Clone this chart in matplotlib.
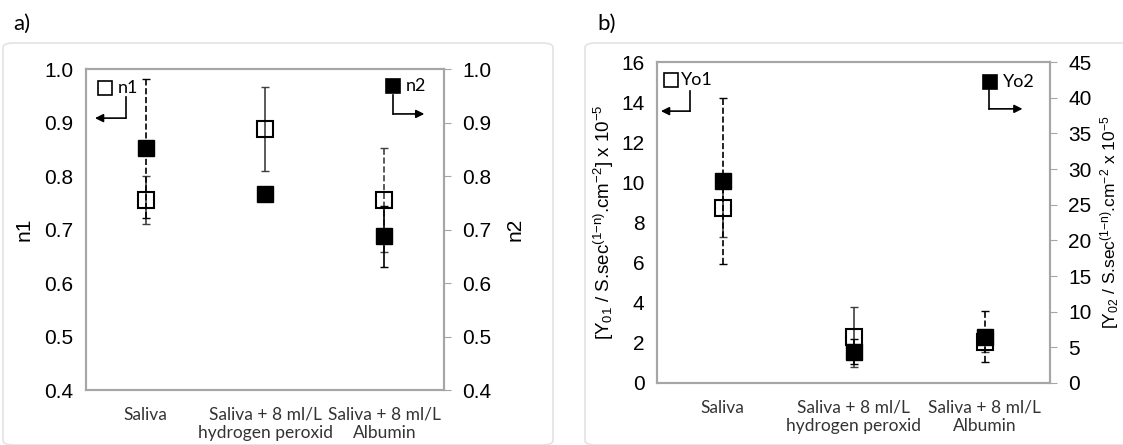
import numpy as np
import matplotlib
matplotlib.use('Agg')
import matplotlib.pyplot as plt
from matplotlib.patches import FancyBboxPatch

categories = ['Saliva', 'Saliva + 8 ml/L\nhydrogen peroxid', 'Saliva + 8 ml/L\nAlbumin']

# panel a: n1 (left axis), n2 (right axis)
n1 = [0.755, 0.888, 0.755]
n1_err = [0.045, 0.079, 0.097]
n1_ls = ['-', '-', '--']
n2 = [0.852, 0.766, 0.687]
n2_err = [0.13, 0.0, 0.057]
n2_ls = ['--', '-', '-']

# panel b: Yo1 (left axis, x10^-5), Yo2 (right axis, x10^-5)
yo1 = [8.74, 2.30, 2.05]
yo1_err = [1.46, 1.5, 0.5]
yo1_ls = ['-', '-', '-']
yo2 = [28.3, 4.4, 6.5]
yo2_err = [11.6, 1.8, 3.6]
yo2_ls = ['--', '--', '--']

tick_font = 'Liberation Sans'
cat_font = 'Lato'
grey = '#a6a6a6'

plt.rcParams['mathtext.fontset'] = 'custom'
plt.rcParams['mathtext.rm'] = tick_font
plt.rcParams['mathtext.it'] = tick_font

W, H = 1123, 445
fig = plt.figure(figsize=(W / 100, H / 100), dpi=100)


def px_axes(x0, x1, ytop, ybot):
	return fig.add_axes([x0 / W, 1 - ybot / H, (x1 - x0) / W, (ybot - ytop) / H])


def draw_series(ax, x, y, err, styles, filled):
	eb = ax.errorbar(x, y, yerr=err, fmt='none', ecolor='#404040' if not filled else 'black',
					 elinewidth=1.2, capsize=3, capthick=1.0, zorder=2)
	eb[2][0].set_linestyle(styles)
	if filled:
		ax.plot(x, y, 's', ms=11, mfc='black', mec='black', ls='none', zorder=4)
	else:
		ax.plot(x, y, 's', ms=11, mfc='none', mec='black', mew=1.5, ls='none', zorder=3)


def style_axes(ax, ax2):
	for a in (ax, ax2):
		for s in a.spines.values():
			s.set_color(grey)
			s.set_linewidth(1.5)
	ax.tick_params(axis='y', length=0, pad=9, labelsize=15)
	ax2.tick_params(axis='y', length=5, color=grey, pad=8, labelsize=15)
	ax.tick_params(axis='x', length=0, pad=12)
	for lab in ax.get_yticklabels() + ax2.get_yticklabels():
		lab.set_family(tick_font)
	for lab in ax.get_xticklabels():
		lab.set_family(cat_font)
		lab.set_fontsize(12.5)
		lab.set_color('#333333')
		lab.set_linespacing(1.15)


def marker_key(ax, sq, txt, vx, vy0, vy1, hx, filled):
	ax.plot([sq[0]], [sq[1]], 's', ms=10, transform=ax.transAxes, clip_on=False,
			mfc='black' if filled else 'none', mec='black', mew=1.2, zorder=6)
	ax.text(txt[0], txt[1], txt[2], transform=ax.transAxes, fontsize=13, family=cat_font,
			va='center', ha='left', zorder=6)
	ax.plot([vx, vx], [vy0, vy1], color='black', lw=1.2, transform=ax.transAxes, zorder=6)
	ax.annotate('', xy=(hx, vy1), xytext=(vx, vy1), xycoords='axes fraction',
				arrowprops=dict(arrowstyle='-|>', color='black', lw=1.2, mutation_scale=12,
								shrinkA=0, shrinkB=0), zorder=6)


x = np.arange(len(categories))

# ---- panel a ----
axa = px_axes(86, 444, 69, 390)
axa2 = axa.twinx()
draw_series(axa, x, n1, n1_err, n1_ls, False)
draw_series(axa2, x, n2, n2_err, n2_ls, True)
for a in (axa, axa2):
	a.set_ylim(0.4, 1.0)
	a.set_yticks(np.arange(0.4, 1.01, 0.1))
	a.set_yticklabels(['%.1f' % v for v in np.arange(0.4, 1.01, 0.1)])
axa.set_xlim(-0.5, 2.5)
axa.set_xticks(x)
axa.set_xticklabels(categories)
axa2.set_zorder(axa.get_zorder() + 1)
axa2.patch.set_visible(False)
style_axes(axa, axa2)
axa.set_ylabel('n1', fontsize=15, family=tick_font, labelpad=8)
axa2.set_ylabel('n2', fontsize=15, family=tick_font, labelpad=10)
marker_key(axa2, (0.053, 0.940), (0.088, 0.940, 'n1'), 0.111, 0.913, 0.847, 0.025, False)
marker_key(axa2, (0.858, 0.947), (0.893, 0.947, 'n2'), 0.858, 0.919, 0.860, 0.945, True)

# ---- panel b ----
axb = px_axes(657, 1050, 62, 383)
axb2 = axb.twinx()
draw_series(axb, x, yo1, yo1_err, yo1_ls, False)
draw_series(axb2, x, yo2, yo2_err, yo2_ls, True)
axb.set_ylim(0, 16)
axb.set_yticks(np.arange(0, 17, 2))
axb2.set_ylim(0, 45)
axb2.set_yticks(np.arange(0, 46, 5))
axb.set_xlim(-0.5, 2.5)
axb.set_xticks(x)
axb.set_xticklabels(categories)
axb2.set_zorder(axb.get_zorder() + 1)
axb2.patch.set_visible(False)
style_axes(axb, axb2)
axb.set_ylabel(r'[Y$_{01}$ / S.sec$^{(1\mathrm{-n})}$.cm$^{-2}$] x 10$^{-5}$', fontsize=13.5,
			   family=tick_font, labelpad=4)
axb2.set_ylabel(r'[Y$_{02}$ / S.sec$^{(1\mathrm{-n})}$.cm$^{-2}$ x 10$^{-5}$', fontsize=12.5,
				family=tick_font, labelpad=5)
marker_key(axb2, (0.036, 0.944), (0.062, 0.944, 'Yo1'), 0.084, 0.911, 0.847, 0.010, False)
marker_key(axb2, (0.847, 0.939), (0.881, 0.939, 'Yo2'), 0.845, 0.913, 0.854, 0.930, True)

# panel frames and labels
for x0, x1 in [(3, 553), (585, 1135)]:
	fig.patches.append(FancyBboxPatch((x0 / W, 0.0), (x1 - x0) / W, (H - 43) / H,
									  boxstyle='round,pad=0,rounding_size=0.01',
									  transform=fig.transFigure, fc='none', ec='#e3e3e3', lw=1.2))
fig.text(13 / W, 1 - 24 / H, 'a)', fontsize=16, family=cat_font, va='center')
fig.text(597 / W, 1 - 24 / H, 'b)', fontsize=16, family=cat_font, va='center')

fig.savefig('out.png', dpi=100)
